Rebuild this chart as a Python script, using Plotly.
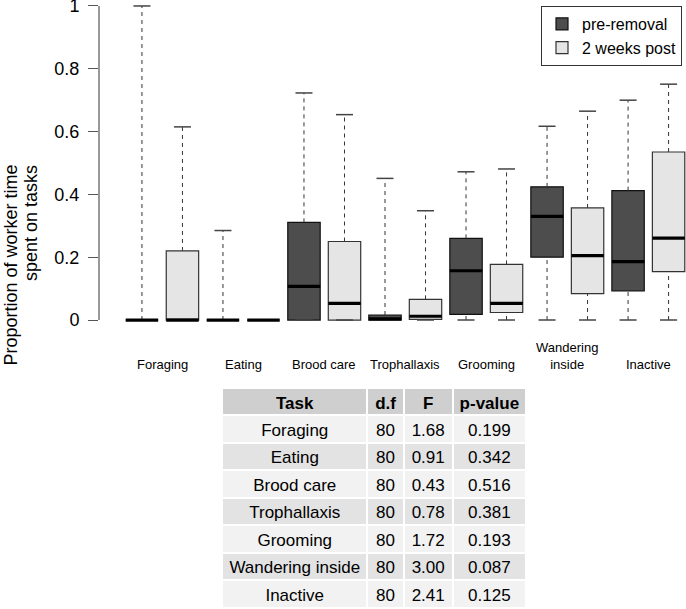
import plotly.graph_objects as go

# tasks and two observation periods
tasks = ['Foraging', 'Eating', 'Brood care', 'Trophallaxis', 'Grooming',
         'Wandering<br>inside', 'Inactive']
groups = ['pre-removal', '2 weeks post']

# box statistics (proportion of worker time)
pre_q1 = [0, 0, 0, 0, 0.018, 0.200, 0.093]
pre_median = [0, 0, 0.107, 0.004, 0.157, 0.330, 0.186]
pre_q3 = [0, 0, 0.311, 0.016, 0.260, 0.424, 0.412]
pre_lower = [0, 0, 0, 0, 0, 0, 0]
pre_upper = [1.0, 0.285, 0.723, 0.451, 0.472, 0.617, 0.700]

post_q1 = [0, 0, 0, 0.002, 0.024, 0.084, 0.154]
post_median = [0, 0, 0.053, 0.012, 0.053, 0.205, 0.261]
post_q3 = [0.220, 0, 0.250, 0.066, 0.177, 0.357, 0.535]
post_lower = [0, 0, 0, 0, 0, 0, 0]
post_upper = [0.615, 0, 0.654, 0.348, 0.481, 0.665, 0.751]

# ANOVA table
table_tasks = ['Foraging', 'Eating', 'Brood care', 'Trophallaxis', 'Grooming',
               'Wandering inside', 'Inactive']
table_df = ['80', '80', '80', '80', '80', '80', '80']
table_f = ['1.68', '0.91', '0.43', '0.78', '1.72', '3.00', '2.41']
table_p = ['0.199', '0.342', '0.516', '0.381', '0.193', '0.087', '0.125']

FONT = 'Liberation Sans, Arial, sans-serif'
W, H = 686, 609

pre_pos = [2 * i + 1 for i in range(len(tasks))]
post_pos = [2 * i + 2 for i in range(len(tasks))]

series = [
    (groups[0], pre_pos, pre_q1, pre_median, pre_q3, pre_lower, pre_upper, '#4d4d4d', '#111111'),
    (groups[1], post_pos, post_q1, post_median, post_q3, post_lower, post_upper, '#e5e5e5', '#333333'),
]

fig = go.Figure()

# box bodies first so the line layers sit on top
for name, pos, q1, med, q3, lo, up, fill, edge in series:
    fig.add_trace(go.Box(
        name=name, x=pos, q1=q1, median=med, q3=q3, lowerfence=q1, upperfence=q3,
        width=0.8, fillcolor=fill, line=dict(color=edge, width=1.2),
        boxpoints=False, whiskerwidth=0, hoverinfo='skip',
    ))

half_cap = 0.21
half_box = 0.4
for name, pos, q1, med, q3, lo, up, fill, edge in series:
    wx, wy, cx, cy, mx, my = [], [], [], [], [], []
    for p, a, m, b, l, u in zip(pos, q1, med, q3, lo, up):
        if u > b:
            wx += [p, p, None]
            wy += [b, u, None]
        if l < a:
            wx += [p, p, None]
            wy += [l, a, None]
        if u > m or l < m:
            cx += [p - half_cap, p + half_cap, None, p - half_cap, p + half_cap, None]
            cy += [u, u, None, l, l, None]
        mx += [p - half_box, p + half_box, None]
        my += [m, m, None]
    fig.add_trace(go.Scatter(x=wx, y=wy, mode='lines', showlegend=False, hoverinfo='skip',
                             line=dict(color='#333333', width=1, dash='4px,4px')))
    fig.add_trace(go.Scatter(x=cx, y=cy, mode='lines', showlegend=False, hoverinfo='skip',
                             line=dict(color='#444444', width=1.5)))
    fig.add_trace(go.Scatter(x=mx, y=my, mode='lines', showlegend=False, hoverinfo='skip',
                             line=dict(color='black', width=3.2)))

# table of test results (non-breaking space keeps the long task on one line)
row_fill = ['#f2f2f2' if i % 2 == 0 else '#e3e3e3' for i in range(len(table_tasks))]
fig.add_trace(go.Table(
    domain=dict(x=[222 / W, 526 / W], y=[0, (H - 388) / H]),
    columnwidth=[145, 36, 49, 73],
    header=dict(values=['Task', 'd.f', 'F', 'p-value'],
                fill_color='#cfcfcf', line=dict(color='white', width=2),
                font=dict(family=FONT, size=17, color='black', weight='bold'),
                align='center', height=27),
    cells=dict(values=[[t.replace(' ', '\u00a0') for t in table_tasks], table_df, table_f, table_p],
               fill_color=[row_fill] * 4, line=dict(color='white', width=2),
               font=dict(family=FONT, size=17, color='black'), align='center', height=27.5),
))

annotations = []
for i, t in enumerate(tasks):
    annotations.append(dict(
        x=(pre_pos[i] + post_pos[i]) / 2, y=1 - 374 / H, xref='x', yref='paper',
        text=t, showarrow=False, xanchor='center', yanchor='bottom',
        font=dict(family=FONT, size=13, color='black'),
    ))
annotations.append(dict(x=-2 / W, y=1 - 163 / H, xref='paper', yref='paper',
                        text='Proportion of worker time', textangle=-90, showarrow=False,
                        font=dict(family=FONT, size=18, color='black')))
annotations.append(dict(x=19 / W, y=1 - 163 / H, xref='paper', yref='paper',
                        text='spent on tasks', textangle=-90, showarrow=False,
                        font=dict(family=FONT, size=18, color='black')))

fig.update_layout(
    width=W, height=H,
    margin=dict(l=0, r=0, t=0, b=0, autoexpand=False),
    paper_bgcolor='white', plot_bgcolor='white',
    font=dict(family=FONT, size=17, color='black'),
    xaxis=dict(domain=[99 / W, 1], range=[-0.06, 14.43], showticklabels=False,
               showgrid=False, zeroline=False, showline=False, ticks='', automargin=False),
    yaxis=dict(domain=[1 - 332.6 / H, 1], range=[-0.04, 1.019], automargin=False,
               tickvals=[0, 0.2, 0.4, 0.6, 0.8, 1], ticktext=['0', '0.2', '0.4', '0.6', '0.8', '1'],
               ticks='outside', ticklen=10, tickcolor='#555555', tickwidth=1.2,
               ticklabeloverflow='allow', ticklabelstandoff=5,
               tickfont=dict(family=FONT, size=18, color='black'),
               showgrid=False, zeroline=False, showline=False),
    legend=dict(x=682 / W, y=1 - 6 / H, xanchor='right', yanchor='top',
                bordercolor='#333333', borderwidth=1, bgcolor='white',
                font=dict(family=FONT, size=16, color='black')),
    shapes=[dict(type='line', xref='paper', yref='y', x0=99 / W, x1=99 / W, y0=0, y1=1,
                 line=dict(color='#555555', width=1.2))],
    annotations=annotations,
)

# the page's default body margin would push the figure 8px off its place
fig.write_html("out.html", config={'displayModeBar': False},
               post_script="document.body.style.margin = '0';")
